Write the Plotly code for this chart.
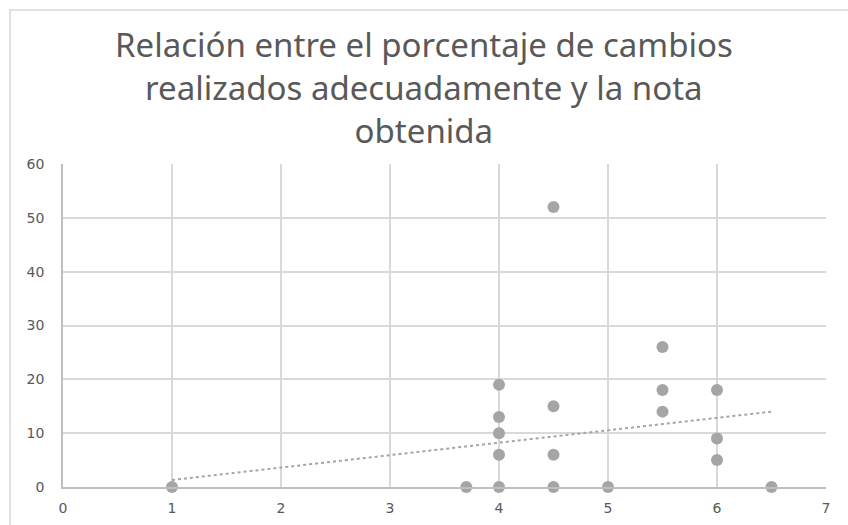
import plotly.graph_objects as go

nota = [1, 3.7, 4, 4, 4, 4, 4, 4.5, 4.5, 4.5, 4.5, 5, 5.5, 5.5, 5.5, 6, 6, 6, 6.5]
porcentaje = [0, 0, 0, 6, 10, 13, 19, 52, 15, 6, 0, 0, 26, 18, 14, 18, 9, 5, 0]

# Linear trendline as drawn in the reference (end values)
tendencia_x = [1, 6.5]
tendencia_y = [1.3, 14.0]

title_text = "Relación entre el porcentaje de cambios<br>realizados adecuadamente y la nota<br>obtenida"

fig = go.Figure()
fig.add_trace(go.Scatter(x=tendencia_x, y=tendencia_y, mode="lines",
                         line=dict(color="#a5a5a5", width=2, dash="dot"),
                         hoverinfo="skip", showlegend=False))
fig.add_trace(go.Scatter(x=nota, y=porcentaje, mode="markers",
                         marker=dict(color="#a5a5a5", size=12, line=dict(width=0)),
                         showlegend=False, cliponaxis=False))

fig.add_shape(type="rect", xref="paper", yref="paper",
              x0=(10 - 63) / 763, x1=(860 - 63) / 763,
              y0=(487 - 540) / 323, y1=(487 - 10) / 323,
              line=dict(color="#d9d9d9", width=1.5), layer="below")

fig.add_annotation(text=title_text, xref="paper", yref="paper",
                   x=(424 - 63) / 763, y=(487 - 88) / 323,
                   xanchor="center", yanchor="middle", showarrow=False,
                   font=dict(family="Noto Sans", size=33, color="#595959"))

fig.update_layout(
    width=848, height=525,
    margin=dict(l=63, r=22, t=164, b=38),
    paper_bgcolor="white", plot_bgcolor="white",
    font=dict(family="DejaVu Sans", size=14, color="#595959"),
    xaxis=dict(range=[0, 7], dtick=1, tick0=0, showgrid=True, gridcolor="#d9d9d9", gridwidth=1.5,
               zeroline=False, showline=True, linecolor="#bfbfbf", linewidth=1.5, automargin=False,
               ticks="", ticklabelstandoff=7, tickfont=dict(size=14, color="#595959")),
    yaxis=dict(range=[0, 60], dtick=10, tick0=0, showgrid=True, gridcolor="#d9d9d9", gridwidth=1.5,
               zeroline=False, showline=True, linecolor="#bfbfbf", linewidth=1.5, automargin=False,
               ticks="", ticklabelstandoff=14, tickfont=dict(size=14, color="#595959")),
)

fig.write_html("out.html")
